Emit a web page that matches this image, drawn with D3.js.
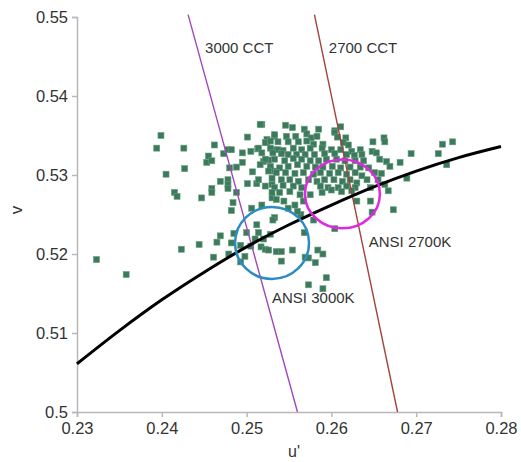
<!DOCTYPE html>
<html>
<head>
<meta charset="utf-8">
<script src="https://cdn.jsdelivr.net/npm/d3@7"></script>
<style>
    body { margin: 0; background: #fff; }
    text { font-family: "Liberation Sans", Arial, sans-serif; fill: #333; }
</style>
</head>
<body>
<svg id="chart" width="521" height="462"></svg>
<script>
// measured points (u', v')
var uPts = [
    0.2323, 0.2358, 0.2423, 0.2444, 0.2461, 0.2465, 0.2469, 0.2479, 0.2482, 0.2485,
    0.2493, 0.2493, 0.2500, 0.2498, 0.2505, 0.2510, 0.2484, 0.2482, 0.2399, 0.2394,
    0.2426, 0.2462, 0.2455, 0.2453, 0.2459, 0.2473, 0.2478, 0.2482, 0.2495, 0.2505,
    0.2501, 0.2480, 0.2488, 0.2495, 0.2507, 0.2427, 0.2405, 0.2469, 0.2478, 0.2478,
    0.2478, 0.2501, 0.2459, 0.2459, 0.2447, 0.2415, 0.2418, 0.2488, 0.2518, 0.2524,
    0.2533, 0.2513, 0.2526, 0.2531, 0.2520, 0.2533, 0.2528, 0.2512, 0.2530, 0.2530,
    0.2535, 0.2518, 0.2506, 0.2533, 0.2512, 0.2531, 0.2514, 0.2528, 0.2520, 0.2517,
    0.2522, 0.2526, 0.2535, 0.2541, 0.2554, 0.2541, 0.2568, 0.2564, 0.2560, 0.2549,
    0.2557, 0.2567, 0.2544, 0.2584, 0.2590, 0.2569, 0.2573, 0.2581, 0.2594, 0.2573,
    0.2590, 0.2604, 0.2579, 0.2630, 0.2646, 0.2648, 0.2673, 0.2649, 0.2662, 0.2663,
    0.2648, 0.2653, 0.2657, 0.2665, 0.2669, 0.2681, 0.2694, 0.2731, 0.2743, 0.2726,
    0.2736, 0.2689, 0.2644, 0.2651, 0.2659, 0.2655, 0.2642, 0.2663, 0.2667, 0.2646,
    0.2516, 0.2546, 0.2554, 0.2568, 0.2585, 0.2604, 0.2611,
    0.2533, 0.2547, 0.2558, 0.2571, 0.2576, 0.2583, 0.2604, 0.2617, 0.2607, 0.2524,
    0.2522, 0.2528, 0.2537, 0.2549, 0.2561, 0.2571, 0.2579, 0.2590, 0.2614, 0.2620,
    0.2514, 0.2528, 0.2537, 0.2543, 0.2555, 0.2565, 0.2575, 0.2589, 0.2600, 0.2611, 0.2624, 0.2634,
    0.2518, 0.2531, 0.2541, 0.2549, 0.2559, 0.2569, 0.2580, 0.2592, 0.2604, 0.2618, 0.2627, 0.2636,
    0.2522, 0.2533, 0.2545, 0.2555, 0.2565, 0.2575, 0.2585, 0.2594, 0.2606, 0.2616, 0.2628, 0.2638,
    0.2516, 0.2528, 0.2539, 0.2549, 0.2560, 0.2571, 0.2581, 0.2590, 0.2601, 0.2611, 0.2622, 0.2634,
    0.2526, 0.2535, 0.2546, 0.2557, 0.2567, 0.2579, 0.2587, 0.2598, 0.2608, 0.2618, 0.2628, 0.2636,
    0.2514, 0.2530, 0.2541, 0.2551, 0.2561, 0.2573, 0.2583, 0.2592, 0.2603, 0.2613, 0.2622, 0.2630,
    0.2522, 0.2533, 0.2543, 0.2555, 0.2565, 0.2587, 0.2596, 0.2608, 0.2618, 0.2628,
    0.2530, 0.2539, 0.2551, 0.2563, 0.2575, 0.2589, 0.2600, 0.2612, 0.2624
]
var vPts = [
    0.5193, 0.5174, 0.5206, 0.5212, 0.5196, 0.5215, 0.5223, 0.5200, 0.5214, 0.5226,
    0.5190, 0.5211, 0.5227, 0.5197, 0.5210, 0.5219, 0.5265, 0.5255, 0.5350, 0.5334,
    0.5334, 0.5338, 0.5324, 0.5316, 0.5318, 0.5327, 0.5332, 0.5332, 0.5328, 0.5330,
    0.5348, 0.5309, 0.5310, 0.5316, 0.5304, 0.5308, 0.5301, 0.5292, 0.5294, 0.5288,
    0.5283, 0.5289, 0.5283, 0.5278, 0.5271, 0.5278, 0.5273, 0.5278, 0.5364, 0.5341,
    0.5349, 0.5333, 0.5319, 0.5332, 0.5317, 0.5305, 0.5307, 0.5289, 0.5288, 0.5271,
    0.5269, 0.5262, 0.5258, 0.5246, 0.5237, 0.5243, 0.5227, 0.5225, 0.5219, 0.5209,
    0.5206, 0.5205, 0.5203, 0.5203, 0.5205, 0.5191, 0.5227, 0.5250, 0.5254, 0.5258,
    0.5262, 0.5267, 0.5267, 0.5205, 0.5200, 0.5196, 0.5195, 0.5189, 0.5170, 0.5161,
    0.5156, 0.5232, 0.5243, 0.5267, 0.5267, 0.5253, 0.5256, 0.5342, 0.5347, 0.5342,
    0.5330, 0.5328, 0.5320, 0.5317, 0.5311, 0.5316, 0.5327, 0.5339, 0.5342, 0.5327,
    0.5313, 0.5296, 0.5309, 0.5303, 0.5302, 0.5294, 0.5294, 0.5288, 0.5280, 0.5284,
    0.5364, 0.5363, 0.5360, 0.5358, 0.5358, 0.5356, 0.5361,
    0.5351, 0.5349, 0.5349, 0.5352, 0.5347, 0.5349, 0.5354, 0.5347, 0.5348, 0.5345,
    0.5341, 0.5343, 0.5342, 0.5342, 0.5342, 0.5343, 0.5339, 0.5339, 0.5341, 0.5338,
    0.5334, 0.5334, 0.5332, 0.5331, 0.5334, 0.5332, 0.5334, 0.5334, 0.5332, 0.5332, 0.5330, 0.5332,
    0.5328, 0.5328, 0.5327, 0.5326, 0.5326, 0.5326, 0.5326, 0.5327, 0.5327, 0.5326, 0.5325, 0.5326,
    0.5320, 0.5320, 0.5318, 0.5321, 0.5320, 0.5318, 0.5318, 0.5320, 0.5320, 0.5318, 0.5318, 0.5318,
    0.5313, 0.5311, 0.5309, 0.5311, 0.5313, 0.5311, 0.5310, 0.5310, 0.5311, 0.5309, 0.5310, 0.5310,
    0.5305, 0.5303, 0.5303, 0.5302, 0.5303, 0.5301, 0.5303, 0.5302, 0.5303, 0.5301, 0.5303, 0.5299,
    0.5294, 0.5296, 0.5294, 0.5294, 0.5292, 0.5294, 0.5292, 0.5294, 0.5294, 0.5292, 0.5294, 0.5290,
    0.5286, 0.5284, 0.5287, 0.5286, 0.5284, 0.5286, 0.5284, 0.5284, 0.5286, 0.5284,
    0.5278, 0.5278, 0.5279, 0.5275, 0.5275, 0.5278, 0.5281, 0.5279, 0.5280
]

// black body locus
var locusU = [0.230, 0.235, 0.240, 0.245, 0.250, 0.255, 0.260, 0.265, 0.270, 0.275, 0.280]
var locusV = [0.5061, 0.5103, 0.5142, 0.5177, 0.5209, 0.5237, 0.5262, 0.5285, 0.5305, 0.5322, 0.5336]

// iso-CCT lines: [u top, v top, u bottom, v bottom]
var cctNames = ["3000 CCT", "2700 CCT"]
var cctLines = [
    [0.2431, 0.5503, 0.2560, 0.5],
    [0.2580, 0.5503, 0.2678, 0.5]
]
var cctLabelU = [0.2451, 0.2597]
var cctLabelV = [0.5455, 0.5455]

// ANSI targets: center u, center v, radius u, radius v
var ansiNames = ["ANSI 3000K", "ANSI 2700K"]
var ansiU  = [0.2530, 0.2613]
var ansiV  = [0.5214, 0.5276]
var ansiRu = [0.00436, 0.00442]
var ansiRv = [0.00456, 0.00435]
var ansiLabelU = [0.2530, 0.2644]
var ansiLabelV = [0.5138, 0.5209]

var xTicks = [0.23, 0.24, 0.25, 0.26, 0.27, 0.28]
var yTicks = [0.5, 0.51, 0.52, 0.53, 0.54, 0.55]

var svg = d3.select("#chart")
var margin = {left: 77, right: 20, top: 17, bottom: 50}
var width  = 501 - margin.left
var height = 412 - margin.top

var xScale = d3.scaleLinear().domain([0.23, 0.28]).range([0, width])
var yScale = d3.scaleLinear().domain([0.5, 0.55]).range([height, 0])

var g = svg.append("g").attr("transform", "translate(" + margin.left + "," + margin.top + ")")

// axes
var xAxis = g.append("g")
    .attr("transform", "translate(0," + height + ")")
    .call(d3.axisBottom(xScale).tickValues(xTicks).tickSize(5).tickPadding(5).tickFormat(d3.format("")))
var yAxis = g.append("g")
    .call(d3.axisLeft(yScale).tickValues(yTicks).tickSize(5).tickPadding(4).tickFormat(d3.format("")))

svg.selectAll(".domain, .tick line").attr("stroke", "#b8b8b8").attr("stroke-width", 1.5)
svg.selectAll(".tick text")
    .style("font-family", "'Liberation Sans', Arial, sans-serif")
    .style("font-size", "16.5px")
    .attr("fill", "#333")

// scatter squares
var pts = uPts.map(function(u, i){return {u: u, v: vPts[i]}})
var sq = 6
g.selectAll("rect.pt")
    .data(pts)
    .enter()
        .append("rect")
        .attr("class", "pt")
        .attr("x", function(d){return xScale(d.u) - sq / 2})
        .attr("y", function(d){return yScale(d.v) - sq / 2})
        .attr("width", sq)
        .attr("height", sq)
        .attr("fill", "#3b7b5b")
        .attr("stroke", "#6a9c82")
        .attr("stroke-width", 0.6)

// CCT lines
var cctColors = ["#a148b8", "#a0443c"]
g.selectAll("line.cct")
    .data(cctLines)
    .enter()
        .append("line")
        .attr("class", "cct")
        .attr("x1", function(d){return xScale(d[0])})
        .attr("y1", function(d){return yScale(d[1])})
        .attr("x2", function(d){return xScale(d[2])})
        .attr("y2", function(d){return yScale(d[3])})
        .attr("stroke", function(d, i){return cctColors[i]})
        .attr("stroke-width", 1.4)

g.selectAll("text.cct")
    .data(cctNames)
    .enter()
        .append("text")
        .attr("x", function(d, i){return xScale(cctLabelU[i])})
        .attr("y", function(d, i){return yScale(cctLabelV[i])})
        .style("font-size", "15px")
        .text(function(d){return d})

// locus
var locus = locusU.map(function(u, i){return [u, locusV[i]]})
g.append("path")
    .datum(locus)
    .attr("fill", "none")
    .attr("stroke", "#000")
    .attr("stroke-width", 3)
    .attr("d", d3.line()
        .x(function(d){return xScale(d[0])})
        .y(function(d){return yScale(d[1])})
        .curve(d3.curveMonotoneX))

// ANSI circles
var ansiColors = ["#2a8cc2", "#e028e0"]
g.selectAll("ellipse.ansi")
    .data(ansiNames)
    .enter()
        .append("ellipse")
        .attr("cx", function(d, i){return xScale(ansiU[i])})
        .attr("cy", function(d, i){return yScale(ansiV[i])})
        .attr("rx", function(d, i){return xScale(0.23 + ansiRu[i]) - xScale(0.23)})
        .attr("ry", function(d, i){return yScale(0.5) - yScale(0.5 + ansiRv[i])})
        .attr("fill", "none")
        .attr("stroke", function(d, i){return ansiColors[i]})
        .attr("stroke-width", 2.5)

g.selectAll("text.ansi")
    .data(ansiNames)
    .enter()
        .append("text")
        .attr("x", function(d, i){return xScale(ansiLabelU[i])})
        .attr("y", function(d, i){return yScale(ansiLabelV[i])})
        .style("font-size", "15px")
        .text(function(d){return d})

// axis titles
svg.append("text")
    .attr("transform", "translate(22,210) rotate(-90)")
    .attr("text-anchor", "middle")
    .style("font-size", "17px")
    .text("v")
svg.append("text")
    .attr("x", 294)
    .attr("y", 457)
    .attr("text-anchor", "middle")
    .style("font-size", "16px")
    .text("u'")
</script>
</body>
</html>
